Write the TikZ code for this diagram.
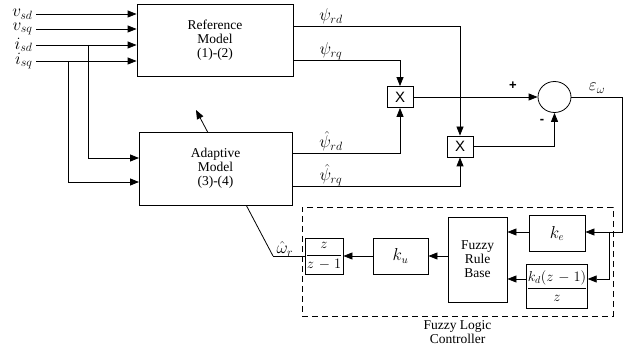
\documentclass[tikz,border=0pt]{standalone}
\usepackage{fontspec}
\setmainfont{Liberation Serif}
\newfontfamily\arialf{Liberation Sans}
\usetikzlibrary{arrows.meta,shapes.geometric,positioning}
\begin{document}
\begin{tikzpicture}[x=1pt,y=-1pt,
  line width=0.8pt,
  blk/.style={draw,rectangle,inner sep=0pt,fill=white,font=\fontsize{13.5}{14}\selectfont,align=center},
  mblk/.style={blk,font=\fontsize{16}{16}\selectfont},
  fblk/.style={blk,font=\fontsize{14}{14}\selectfont},
  mul/.style={draw,rectangle,inner sep=0pt,minimum width=26pt,minimum height=21pt,font=\arialf\fontsize{15}{15}\selectfont},
  arr/.style={-{Triangle[length=9pt,width=7pt]}},
  lbl/.style={inner sep=0pt,font=\fontsize{17}{17}\selectfont},
  sgn/.style={inner sep=0pt,font=\arialf\bfseries\fontsize{13}{13}\selectfont}]
\useasboundingbox (0,0) rectangle (626,352);

% diagonal adaptation arrow (behind adaptive model)
\coordinate (wstart) at (273,256);
\coordinate (wtip) at (196,110);
\draw[arr] (wstart) -- (wtip);

% blocks
\node[blk,minimum width=156pt,minimum height=72pt] (ref) at (215,40) {Reference\\Model\\(1)-(2)};
\node[blk,minimum width=153pt,minimum height=73pt] (adp) at (215.5,168.5) {Adaptive\\Model\\(3)-(4)};
\node[mul] (m1) at (400,97) {X};
\node[mul] (m2) at (460,146.5) {X};
\node[draw,ellipse,inner sep=0pt,minimum width=33pt,minimum height=31pt] (sum) at (554.5,97) {};

\node[fblk,minimum width=38pt,minimum height=36pt] (zi) at (324,256) {$\displaystyle\frac{z}{z\mkern2mu-\mkern1mu1}$};
\node[mblk,minimum width=55pt,minimum height=36pt] (ku) at (400.5,256) {$k_u$};
\node[blk,minimum width=59pt,minimum height=85pt] (frb) at (477.5,259.5) {Fuzzy\\Rule\\Base};
\node[mblk,minimum width=56pt,minimum height=36pt] (ke) at (557,233.5) {$k_e$};
\node[fblk,minimum width=56pt,minimum height=44pt] (kd) at (557,286) {$\displaystyle\frac{k_d(z\mkern2mu-\mkern1mu1)}{z}$};
\node[draw,dash pattern=on 6pt off 4pt,rectangle,inner sep=0pt,minimum width=311pt,minimum height=109pt] (flc) at (457.5,261.5) {};
\node[blk,draw=none,fill=none,below=4pt of flc.south] (flct) {Fuzzy Logic\\Controller};

% inputs
\foreach \n/\yy/\t in {1/14/v_{sd},2/29/v_{sq},3/45/i_{sd},4/61/i_{sq}}{
  \coordinate (in\n) at (36,\yy);
  \node[lbl,anchor=east] (il\n) at (33,\yy) {$\t$};
  \draw[arr] (in\n) -- (in\n -| ref.west);
}
\coordinate (b1) at (88,45);
\coordinate (b2) at (68,61);
\coordinate (a1) at (139,158);
\coordinate (a2) at (139,182);
\draw[arr] (b1) |- (a1);
\draw[arr] (b2) |- (a2);

% outputs of the models
\coordinate (r1) at (293,26);
\coordinate (r2) at (293,60);
\coordinate (h1) at (292,153);
\coordinate (h2) at (292,186);
\draw[arr] (r1) -| (m2.north);
\draw[arr] (r2) -| (m1.north);
\draw[arr] (h1) -| (m1.south);
\draw[arr] (h2) -| (m2.south);
\node[lbl,anchor=base] (lr1) at (331,21) {$\psi_{rd}$};
\node[lbl,anchor=base] (lr2) at (331,55) {$\psi_{rq}$};
\node[lbl,anchor=base] (lh1) at (331,148) {$\hat{\psi}_{rd}$};
\node[lbl,anchor=base] (lh2) at (331,181) {$\hat{\psi}_{rq}$};

% error
\draw[arr] (m1.east) -- (sum.west);
\draw[arr] (m2.east) -| (sum.south);
\node[sgn] (plus) at (513,86) {+};
\node[sgn] (minus) at (542,121) {-};
\node[lbl] (eps) at (597,88) {$\varepsilon_{\omega}$};
\coordinate (rc) at (622,97);
\coordinate (j) at (609,232);
\draw (sum.east) -- (rc) |- (j);
\draw[arr] (j) -- (j -| ke.east);
\draw[arr] (j) |- (kd.east |- 0,279);

% FLC internal
\draw[arr] (ke.west |- 0,232) -- (frb.east |- 0,232);
\draw[arr] (kd.west |- 0,279) -- (frb.east |- 0,279);
\draw[arr] (frb.west |- ku.east) -- (ku.east);
\draw[arr] (ku.west) -- (zi.east);
\draw (zi.west) -- (wstart);
\node[lbl] (wl) at (285,249) {$\hat{\omega}_r$};
\end{tikzpicture}
\end{document}
